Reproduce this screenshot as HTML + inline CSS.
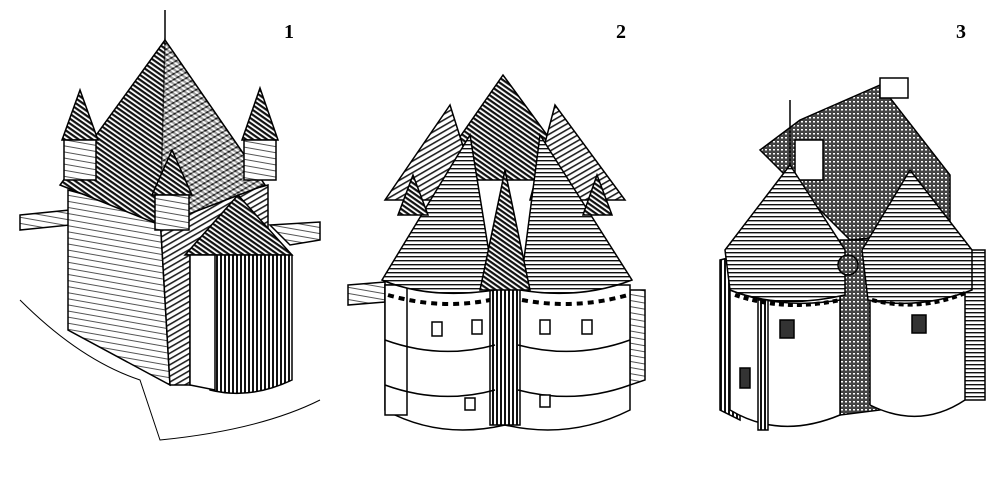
<!DOCTYPE html>
<html><head><style>
html,body{margin:0;padding:0;background:#fff;width:1000px;height:479px;overflow:hidden}
svg{display:block}
text{font-family:"Liberation Serif",serif;font-weight:bold;font-size:20px;fill:#000}
</style></head><body>
<svg width="1000" height="479" viewBox="0 0 1000 479" xmlns="http://www.w3.org/2000/svg">
<defs>
<pattern id="hd" width="4" height="4" patternUnits="userSpaceOnUse" patternTransform="rotate(35)"><rect width="4" height="4" fill="#fff"/><rect width="4" height="2.2" fill="#111"/></pattern>
<pattern id="hm" width="5" height="5" patternUnits="userSpaceOnUse" patternTransform="rotate(-30)"><rect width="5" height="5" fill="#fff"/><rect width="5" height="1.6" fill="#222"/></pattern>
<pattern id="hl" width="6" height="6" patternUnits="userSpaceOnUse" patternTransform="rotate(10)"><rect width="6" height="6" fill="#fff"/><rect width="6" height="1" fill="#555"/></pattern>
<pattern id="hv" width="4" height="4" patternUnits="userSpaceOnUse"><rect width="4" height="4" fill="#fff"/><rect width="2" height="4" fill="#111"/></pattern>
<pattern id="hh" width="5" height="4" patternUnits="userSpaceOnUse"><rect width="5" height="4" fill="#fff"/><rect width="5" height="1.4" fill="#111"/></pattern>
<pattern id="dd" width="4" height="4" patternUnits="userSpaceOnUse"><rect width="4" height="4" fill="#444"/><rect x="1" y="1" width="2" height="1.5" fill="#fff"/></pattern>
</defs>

<text x="284" y="38">1</text>
<text x="616" y="38">2</text>
<text x="956" y="38">3</text>

<!-- Castle 1 -->
<g stroke="#000" stroke-width="1.5">
<path d="M20 215 L70 210 L70 225 L20 230Z" fill="url(#hl)"/>
<path d="M270 225 L320 222 L320 240 L290 245Z" fill="url(#hl)"/>
<path d="M20 300 Q80 360 140 380 L160 440 Q260 430 320 400" fill="none" stroke-width="1"/>
<path d="M68 190 L160 215 L170 385 L68 330Z" fill="url(#hl)"/>
<path d="M160 215 L268 185 L268 230 L190 250 L190 385 L170 385Z" fill="url(#hm)"/>
<path d="M165 40 L60 185 L160 225 L265 185Z" fill="url(#hd)"/>
<path d="M165 40 L160 225 L265 185Z" fill="url(#hm)" opacity="0.6"/>
<path d="M80 90 L62 140 L98 140Z" fill="url(#hd)"/>
<rect x="64" y="140" width="32" height="40" fill="url(#hl)"/>
<path d="M260 88 L242 140 L278 140Z" fill="url(#hd)"/>
<rect x="244" y="140" width="32" height="40" fill="url(#hl)"/>
<path d="M172 150 L152 195 L192 195Z" fill="url(#hd)"/>
<rect x="155" y="195" width="34" height="35" fill="url(#hl)"/>
<path d="M238 195 L185 255 L292 255Z" fill="url(#hd)"/>
<path d="M190 255 L292 255 L292 380 Q250 400 210 390 L200 320Z" fill="url(#hv)"/>
<path d="M190 255 L215 255 L215 390 L190 385Z" fill="#fff"/>
<line x1="165" y1="40" x2="165" y2="10"/>
</g>

<!-- Castle 2 -->
<g stroke="#000" stroke-width="1.5">
<path d="M348 285 L385 282 L385 302 L348 305Z" fill="url(#hl)"/>
<path d="M630 290 L645 290 L645 380 L630 385Z" fill="url(#hl)"/>
<path d="M503 75 L430 180 L580 180Z" fill="url(#hd)"/>
<path d="M450 105 L385 200 L480 200Z" fill="url(#hm)"/>
<path d="M555 105 L530 200 L625 200Z" fill="url(#hm)"/>
<path d="M385 285 L385 410 Q440 440 505 425 Q570 440 630 410 L630 285Z" fill="#fff"/>
<rect x="490" y="285" width="30" height="140" fill="url(#hv)"/>
<rect x="385" y="285" width="22" height="130" fill="#fff"/>
<path d="M385 340 Q440 360 495 345 M518 345 Q575 360 630 340 M385 385 Q440 405 495 390 M518 390 Q575 405 630 385" fill="none"/>
<path d="M470 135 L382 280 Q430 300 495 290Z" fill="url(#hh)"/>
<path d="M540 135 L632 280 Q580 300 520 290Z" fill="url(#hh)"/>
<path d="M505 170 L480 290 L530 290Z" fill="url(#hd)"/>
<path d="M413 175 L398 215 L428 215Z" fill="url(#hd)"/>
<path d="M597 175 L583 215 L612 215Z" fill="url(#hd)"/>
<path d="M388 295 Q440 310 490 300 M522 300 Q575 310 628 295" fill="none" stroke-width="4" stroke-dasharray="6 5"/>
<g fill="#fff"><rect x="432" y="322" width="10" height="14"/><rect x="472" y="320" width="10" height="14"/><rect x="540" y="320" width="10" height="14"/><rect x="582" y="320" width="10" height="14"/><rect x="465" y="398" width="10" height="12"/><rect x="540" y="395" width="10" height="12"/></g>
</g>

<!-- Castle 3 -->
<g stroke="#000" stroke-width="1.5">
<path d="M800 120 L880 85 L950 175 L950 230 L850 240 L760 150Z" fill="url(#dd)"/>
<rect x="880" y="78" width="28" height="20" fill="#fff"/>
<rect x="795" y="140" width="28" height="40" fill="#fff"/>
<path d="M720 290 L720 260 L740 255 L740 420 L720 410Z" fill="url(#hv)"/>
<path d="M960 250 L985 250 L985 400 L960 400Z" fill="url(#hh)"/>
<path d="M840 240 L880 240 L880 410 L840 415Z" fill="url(#dd)"/>
<path d="M730 290 L730 410 Q780 440 840 415 L840 300 Q780 310 730 290Z" fill="#fff"/>
<path d="M870 300 L870 405 Q920 430 965 400 L965 290 Q920 310 870 300Z" fill="#fff"/>
<rect x="758" y="300" width="10" height="130" fill="url(#hv)"/>
<path d="M790 165 L725 250 L730 290 Q780 310 845 295 L845 250Z" fill="url(#hh)"/>
<path d="M910 170 L862 250 L868 300 Q920 310 972 290 L972 250Z" fill="url(#hh)"/>
<path d="M790 100 L790 165" />
<circle cx="848" cy="265" r="10" fill="url(#dd)"/>
<g fill="#333"><rect x="780" y="320" width="14" height="18"/><rect x="912" y="315" width="14" height="18"/><rect x="740" y="368" width="10" height="20"/></g>
<path d="M735 295 Q785 312 840 300 M872 300 Q920 312 965 293" fill="none" stroke-width="4" stroke-dasharray="5 4"/>
</g>
</svg>
</body></html>
